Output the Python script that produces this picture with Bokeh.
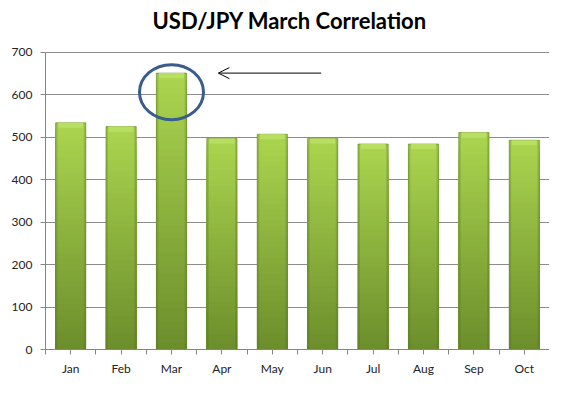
import numpy as np
from bokeh.plotting import figure
from bokeh.models import Range1d, FixedTicker, Arrow, OpenHead, Label
from bokeh.embed import file_html
from bokeh.resources import INLINE

# ---- data ----
months = ["Jan", "Feb", "Mar", "Apr", "May", "Jun", "Jul", "Aug", "Sep", "Oct"]
values = [534, 525, 651, 497, 507, 497, 484, 484, 511, 493]
y_ticks = [0, 100, 200, 300, 400, 500, 600, 700]
title_text = "USD/JPY March Correlation"
highlight = "Mar"

# ---- styles / layout ----
FONT = "Lato"
AXIS_COL = "#868686"
GRID_COL = "#8c8c8c"
TEXT_COL = "#222222"
TOP_RGB = np.array([172, 214, 80])
BOT_RGB = np.array([108, 142, 44])
BAR_W = 0.6
N_SLICES = 40
Y_MAX = y_ticks[-1]
Y_HEADROOM = 822  # range top so the title fits inside the frame

n = len(months)
xc = [i + 0.5 for i in range(n)]

p = figure(width=549, height=378, output_backend="svg", toolbar_location=None,
           x_range=Range1d(0, n), y_range=Range1d(0, Y_HEADROOM),
           min_border_left=45, min_border_right=0, min_border_top=0,
           min_border_bottom=24, outline_line_color=None,
           background_fill_color="white", border_fill_color="white")

# title label: screen units relative to frame (bottom-left origin)
title = Label(x=107, y=329, x_units="screen", y_units="screen", text=title_text,
              text_font=FONT, text_font_style="bold", text_font_size="22px",
              text_color="#000000", text_baseline="alphabetic", text_align="left")
p.add_layout(title)

# bars as overlapping vertical gradient layers (largest first, no seams)
for k in range(N_SLICES, 0, -1):
    f1 = k / N_SLICES
    t = (k - 0.5) / N_SLICES
    rgb = (BOT_RGB + (TOP_RGB - BOT_RGB) * t).astype(int)
    col = "#%02x%02x%02x" % tuple(rgb)
    p.vbar(x=xc, width=BAR_W, bottom=0, top=[v * f1 for v in values],
           fill_color=col, line_color=None)

# darker side edges
p.vbar(x=[x - BAR_W / 2 + 0.02 for x in xc], width=0.04, bottom=0, top=values,
       fill_color="#4f6b1f", fill_alpha=0.22, line_color=None)
p.vbar(x=[x + BAR_W / 2 - 0.02 for x in xc], width=0.04, bottom=0, top=values,
       fill_color="#4f6b1f", fill_alpha=0.22, line_color=None)
p.vbar(x=xc, width=BAR_W, bottom=0, top=values, fill_color=None,
       line_color="#5e7f25", line_alpha=0.55, line_width=1)
# top bevel
p.vbar(x=xc, width=BAR_W * 0.82, bottom=[v - 12 for v in values], top=values,
       fill_color="#b8df62", line_color=None)

# highlight ellipse and arrow
hi = months.index(highlight)
p.ellipse(x=[xc[hi]], y=[values[hi] - 45], width=1.27, height=130,
          fill_color=None, line_color="#3a5d8e", line_width=3)
p.add_layout(Arrow(end=OpenHead(size=11, line_color="black", line_width=1),
                   x_start=xc[hi] + 2.97, y_start=values[hi],
                   x_end=xc[hi] + 0.93, y_end=values[hi],
                   line_color="black", line_width=1))

# grid
p.xgrid.visible = False
p.ygrid.ticker = FixedTicker(ticks=y_ticks)
p.ygrid.grid_line_color = GRID_COL
p.ygrid.grid_line_width = 1

# y axis
p.yaxis.ticker = FixedTicker(ticks=y_ticks)
p.yaxis.bounds = (0, Y_MAX)
p.yaxis.axis_line_color = AXIS_COL
p.yaxis.major_tick_line_color = AXIS_COL
p.yaxis.major_tick_out = 5
p.yaxis.major_tick_in = 0
p.yaxis.minor_tick_line_color = None
p.yaxis.major_label_standoff = 8
p.yaxis.major_label_text_font = FONT
p.yaxis.major_label_text_font_size = "12px"
p.yaxis.major_label_text_color = TEXT_COL

# x axis: ticks at centers and boundaries, labels at centers
xt = [i * 0.5 for i in range(2 * n + 1)]
p.xaxis.ticker = FixedTicker(ticks=xt)
p.xaxis.major_label_overrides = {
    (i * 0.5 if (i * 0.5) % 1 else int(i * 0.5)): (months[i // 2] if i % 2 else "")
    for i in range(2 * n + 1)
}
p.xaxis.axis_line_color = AXIS_COL
p.xaxis.major_tick_line_color = AXIS_COL
p.xaxis.major_tick_out = 5
p.xaxis.major_tick_in = 0
p.xaxis.minor_tick_line_color = None
p.xaxis.major_label_standoff = 6
p.xaxis.major_label_text_font = FONT
p.xaxis.major_label_text_font_size = "12px"
p.xaxis.major_label_text_color = TEXT_COL

open("out.html", "w").write(file_html(p, INLINE))
